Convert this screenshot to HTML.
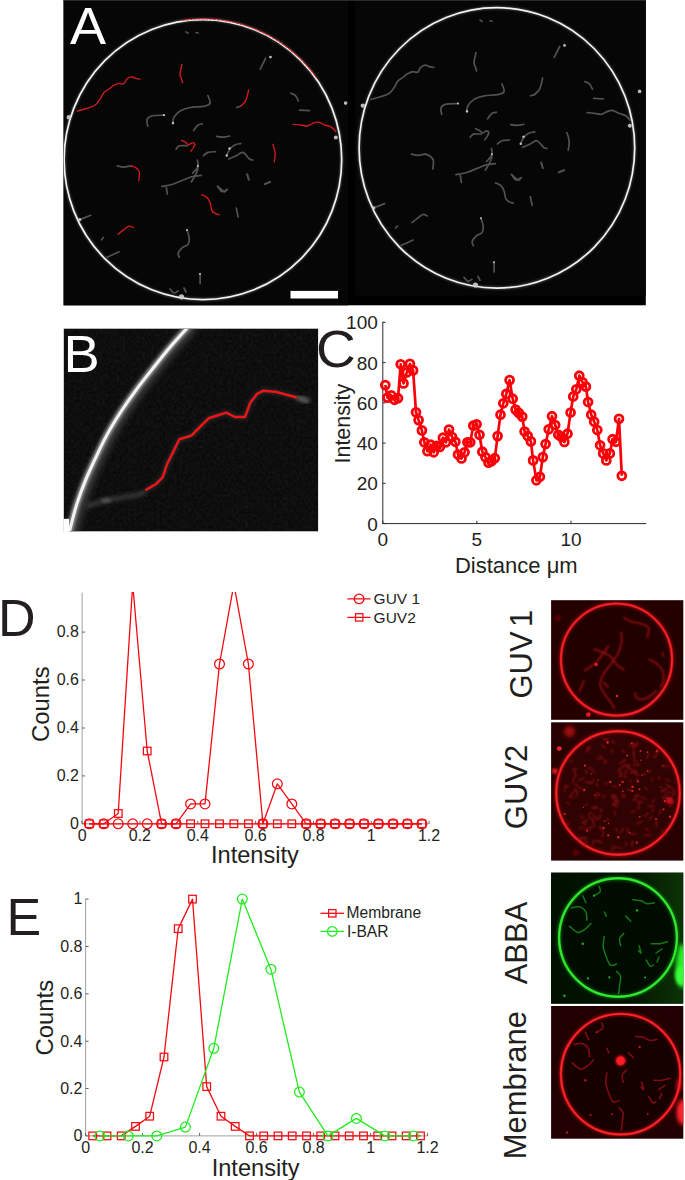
<!DOCTYPE html>
<html><head><meta charset="utf-8"><title>Figure</title>
<style>
html,body{margin:0;padding:0;background:#fff;}
body{width:685px;height:1180px;overflow:hidden;font-family:"Liberation Sans",sans-serif;}
svg{display:block;}
text{font-family:"Liberation Sans",sans-serif;}
</style></head><body>
<svg width="685" height="1180" viewBox="0 0 685 1180">
<defs>
<filter id="b05" x="-20%" y="-20%" width="140%" height="140%"><feGaussianBlur stdDeviation="0.5"/></filter>
<filter id="b07" x="-30%" y="-30%" width="160%" height="160%"><feGaussianBlur stdDeviation="0.75"/></filter>
<filter id="b1" x="-30%" y="-30%" width="160%" height="160%"><feGaussianBlur stdDeviation="1"/></filter>
<filter id="b15" x="-40%" y="-40%" width="180%" height="180%"><feGaussianBlur stdDeviation="1.4"/></filter>
<filter id="b2" x="-50%" y="-50%" width="200%" height="200%"><feGaussianBlur stdDeviation="2"/></filter>
<filter id="b3" x="-50%" y="-50%" width="200%" height="200%"><feGaussianBlur stdDeviation="3"/></filter>
<filter id="b5" x="-50%" y="-50%" width="200%" height="200%"><feGaussianBlur stdDeviation="5"/></filter>
</defs>
<rect x="63.6" y="0" width="582.2" height="305.3" fill="#000"/>
<rect x="63.6" y="0" width="284.4" height="305.3" fill="#060606"/>
<rect x="355.2" y="0" width="290.6" height="295.7" fill="#060606"/>
<rect x="63.6" y="0" width="582.2" height="1" fill="#2a2a2a"/>
<clipPath id="cA1"><rect x="63.6" y="0" width="284.4" height="305.3"/></clipPath>
<clipPath id="cA2"><rect x="355.2" y="0" width="290.6" height="295.7"/></clipPath>
<g clip-path="url(#cA1)">
<g>
<ellipse cx="202.9" cy="159.6" rx="138.8" ry="140.0" fill="none" stroke="#777" stroke-width="3" filter="url(#b1)" opacity="0.55"/>
<ellipse cx="202.9" cy="159.6" rx="138.8" ry="140.0" fill="none" stroke="#f2f2f2" stroke-width="1.7"/>
<g fill="none" stroke="#808080" stroke-width="1.7" stroke-linecap="round" stroke-linejoin="round" filter="url(#b07)" opacity="0.62">
<path d="M147.7 126.1 C147.6 125.0 146.3 121.3 147.0 119.6 C147.7 117.9 149.2 116.5 152.0 115.8 C154.8 115.1 162.1 115.3 164.1 115.2"/>
<path d="M172.8 123.9 C173.0 122.8 172.6 119.6 173.9 117.4 C175.2 115.2 177.8 112.5 180.5 110.8 C183.2 109.1 186.6 108.2 190.4 107.5 C194.2 106.8 200.2 107.1 203.5 106.4 C206.8 105.7 209.4 104.9 210.1 103.1 C210.8 101.3 208.3 96.8 207.9 95.5"/>
<path d="M193.6 130.5 C194.3 129.6 196.5 126.1 198.0 125.0 C199.5 123.9 201.7 124.1 202.4 123.9"/>
<path d="M216.6 136.4 C217.7 136.5 221.0 137.2 223.2 137.1 C225.4 137.0 228.7 136.2 229.8 136.0"/>
<path d="M176.1 149.1 C176.7 148.6 177.6 146.4 179.4 145.8 C181.2 145.2 185.8 145.8 187.1 145.8"/>
<path d="M203.5 155.7 C204.2 155.1 205.9 153.1 207.9 152.4 C209.9 151.7 214.2 151.8 215.5 151.7"/>
<path d="M226.5 155.7 C227.1 154.6 228.4 150.9 229.8 149.1 C231.2 147.3 233.4 145.6 235.2 144.7 C237.0 143.8 239.8 143.8 240.7 143.6"/>
<path d="M228.7 159.0 C230.0 158.4 233.9 156.8 236.3 155.7 C238.7 154.6 240.7 151.8 242.9 152.4 C245.1 153.0 247.8 157.7 249.5 159.0 C251.2 160.3 252.2 159.9 252.8 160.1"/>
<path d="M161.9 186.3 C163.7 186.0 169.2 185.3 172.8 184.2 C176.5 183.1 180.5 181.1 183.8 179.8 C187.1 178.5 189.7 177.2 192.6 176.5 C195.5 175.8 199.9 175.6 201.3 175.4"/>
<path d="M167.4 194.0 L166.3 187.4"/>
<path d="M192.6 173.2 C193.5 172.1 197.2 168.8 198.0 166.6 C198.8 164.4 197.5 161.2 197.4 160.1"/>
<path d="M217.7 186.3 C218.8 187.2 222.8 191.2 224.3 191.8 C225.8 192.4 226.1 190.0 226.5 189.6"/>
<path d="M247.3 174.3 L248.4 178.7"/>
<path d="M264.8 184.2 L270.3 182.0"/>
<path d="M236.3 208.2 L238.1 217.0"/>
<path d="M240.5 106.3 L236.5 107.5"/>
<path d="M265.7 58.2 L260.2 69.1"/>
<path d="M290.9 93.2 C291.6 93.6 293.9 94.1 295.2 95.4 C296.5 96.7 297.9 100.0 298.5 100.9"/>
<path d="M299.6 110.1 L309.5 110.7"/>
<path d="M117.4 165.8 C118.4 166.0 121.2 167.1 123.5 167.1 C125.8 167.1 129.9 166.0 131.2 165.8"/>
<path d="M197.9 165.3 C197.7 166.4 198.0 169.2 196.9 171.9 C195.8 174.7 192.3 180.2 191.4 181.8"/>
<path d="M187.0 229.9 C187.4 231.2 189.0 235.2 189.2 237.6 C189.4 240.0 189.2 242.6 188.1 244.2 C187.0 245.8 184.2 245.9 182.6 247.4 C180.9 248.9 178.8 251.2 178.2 252.9 C177.6 254.6 179.1 256.6 179.3 257.3"/>
<path d="M200.1 273.7 L200.1 283.6"/>
<path d="M107.1 257.3 L119.1 251.8"/>
<path d="M79.7 219.6 L90.7 215.3"/>
<path d="M217.5 186.1 C218.2 187.0 220.2 191.0 221.9 191.6 C223.6 192.2 226.5 189.8 227.4 189.4"/>
<path d="M247.0 174.0 L249.0 180.0"/>
<path d="M264.6 184.0 L270.0 181.8"/>
<path d="M101.6 239.8 L103.3 237.6"/>
<path d="M186.0 32.0 L188.0 33.0"/>
<path d="M196.0 32.5 L198.0 33.0"/>
<path d="M170.0 289.0 C170.7 289.7 172.7 292.7 174.0 293.0 C175.3 293.3 177.3 291.3 178.0 291.0"/>
<path d="M184.0 288.0 L186.0 292.0"/>
</g>
<g fill="#cfcfcf" filter="url(#b07)" opacity="0.9">
<circle cx="270.5" cy="57.1" r="1.4"/>
<circle cx="68.8" cy="117.3" r="2.2"/>
<circle cx="345.6" cy="103.1" r="1.8"/>
<circle cx="335.8" cy="137.5" r="2.0"/>
<circle cx="181.5" cy="296.8" r="2.6"/>
<circle cx="79.7" cy="219.6" r="1.6"/>
<circle cx="173.0" cy="123.0" r="1.2"/>
<circle cx="164.0" cy="115.2" r="1.1"/>
<circle cx="229.5" cy="148.5" r="1.2"/>
<circle cx="226.8" cy="155.5" r="1.2"/>
<circle cx="197.8" cy="166.0" r="1.0"/>
<circle cx="187.0" cy="230.0" r="1.0"/>
<circle cx="200.0" cy="274.0" r="1.0"/>
</g>
<path d="M181.8 20.5 A139.6 140.8 0 0 1 316.7 78.1" fill="none" stroke="#e02424" stroke-width="1.15" stroke-dasharray="3.2 0.7" opacity="0.92"/>
<g fill="none" stroke="#d21c1c" stroke-width="1.35" stroke-linecap="round" stroke-linejoin="round">
<path d="M77.1 111.2 C78.6 110.8 83.3 109.5 86.3 108.5 C89.3 107.5 92.6 106.8 95.0 105.2 C97.4 103.6 99.0 100.8 100.5 98.7 C102.0 96.6 102.3 94.5 103.8 92.8 C105.3 91.1 107.7 90.0 109.3 88.8 C110.9 87.6 112.0 86.4 113.6 85.5 C115.2 84.6 117.4 83.7 119.1 83.4 C120.8 83.2 122.2 84.7 123.5 84.0 C124.8 83.3 125.5 80.2 126.8 79.0 C128.1 77.8 129.8 76.9 131.2 76.8 C132.6 76.7 134.1 77.9 135.5 78.3 C136.9 78.7 139.2 79.0 139.9 79.2"/>
<path d="M182.0 64.3 C181.8 65.1 181.2 67.4 180.9 69.1 C180.6 70.8 179.9 72.9 180.0 74.6 C180.1 76.2 181.1 77.7 181.5 79.0 C181.9 80.3 182.4 82.1 182.6 82.7"/>
<path d="M181.6 140.4 C182.3 140.8 184.8 141.9 186.0 142.6 C187.2 143.3 187.5 144.7 188.6 144.7 C189.7 144.7 191.6 142.6 192.6 142.6 C193.6 142.6 194.6 143.8 194.7 144.7 C194.8 145.6 193.8 146.9 193.2 148.0 C192.5 149.1 191.2 150.8 190.8 151.3"/>
<path d="M248.6 89.9 C248.3 91.0 247.7 94.5 247.1 96.5 C246.5 98.5 246.0 100.4 244.9 102.0 C243.8 103.6 241.2 105.6 240.5 106.3"/>
<path d="M293.1 124.3 C294.4 124.4 298.3 124.7 300.7 125.0 C303.1 125.3 305.5 126.2 307.3 126.0 C309.1 125.8 309.9 124.6 311.7 123.9 C313.5 123.2 316.0 121.9 318.2 122.1 C320.4 122.3 322.6 124.2 324.8 125.0 C327.0 125.8 329.6 126.0 331.4 127.1 C333.2 128.2 335.1 130.8 335.8 131.5"/>
<path d="M272.9 144.3 C273.2 145.3 274.3 148.3 274.7 150.2 C275.1 152.1 275.2 153.8 275.1 155.7 C275.0 157.6 274.4 160.8 274.2 161.8"/>
<path d="M131.2 165.8 C131.9 166.1 134.2 166.5 135.5 167.5 C136.8 168.5 138.8 169.7 139.3 171.9 C139.9 174.1 138.9 179.2 138.8 180.7"/>
<path d="M118.0 234.3 C118.9 233.6 121.7 231.2 123.5 229.9 C125.3 228.6 127.4 226.6 129.0 226.2 C130.6 225.8 132.6 227.4 133.3 227.7"/>
<path d="M201.7 194.7 C202.5 195.1 205.4 196.0 206.8 197.3 C208.2 198.7 209.3 200.6 210.1 202.8 C210.9 205.0 210.9 208.6 211.8 210.4 C212.7 212.2 214.2 213.0 215.5 213.7 C216.8 214.4 218.7 214.6 219.3 214.8"/>
</g>
</g>
</g>
<g clip-path="url(#cA2)">
<g>
<ellipse cx="496.9" cy="147.9" rx="137.8" ry="140.2" fill="none" stroke="#777" stroke-width="3" filter="url(#b1)" opacity="0.55"/>
<ellipse cx="496.9" cy="147.9" rx="137.8" ry="140.2" fill="none" stroke="#f2f2f2" stroke-width="1.7"/>
<g fill="none" stroke="#808080" stroke-width="1.7" stroke-linecap="round" stroke-linejoin="round" filter="url(#b07)" opacity="0.62">
<path d="M441.7 114.4 C441.6 113.3 440.3 109.6 441.0 107.9 C441.7 106.2 443.1 104.8 446.0 104.1 C448.9 103.4 456.1 103.6 458.1 103.5"/>
<path d="M466.8 112.2 C467.0 111.1 466.6 107.9 467.9 105.7 C469.2 103.5 471.8 100.8 474.5 99.1 C477.2 97.5 480.6 96.5 484.4 95.8 C488.2 95.1 494.2 95.4 497.5 94.7 C500.8 94.0 503.4 93.2 504.1 91.4 C504.8 89.6 502.3 85.1 501.9 83.8"/>
<path d="M487.6 118.8 C488.3 117.9 490.5 114.4 492.0 113.3 C493.5 112.2 495.7 112.4 496.4 112.2"/>
<path d="M510.6 124.7 C511.7 124.8 515.0 125.5 517.2 125.4 C519.4 125.3 522.7 124.5 523.8 124.3"/>
<path d="M470.1 137.4 C470.7 136.9 471.6 134.7 473.4 134.1 C475.2 133.6 479.8 134.1 481.1 134.1"/>
<path d="M497.5 144.0 C498.2 143.4 499.9 141.4 501.9 140.7 C503.9 140.0 508.2 140.1 509.5 140.0"/>
<path d="M520.5 144.0 C521.0 142.9 522.3 139.2 523.8 137.4 C525.2 135.6 527.4 133.9 529.2 133.0 C531.0 132.1 533.8 132.1 534.7 131.9"/>
<path d="M522.7 147.3 C524.0 146.8 527.9 145.1 530.3 144.0 C532.7 142.9 534.7 140.2 536.9 140.7 C539.1 141.3 541.9 146.0 543.5 147.3 C545.1 148.6 546.2 148.2 546.8 148.4"/>
<path d="M455.9 174.6 C457.7 174.3 463.1 173.6 466.8 172.5 C470.5 171.4 474.5 169.4 477.8 168.1 C481.1 166.8 483.7 165.5 486.6 164.8 C489.5 164.1 493.9 163.9 495.3 163.7"/>
<path d="M461.4 182.3 L460.3 175.7"/>
<path d="M486.6 161.5 C487.5 160.4 491.2 157.1 492.0 154.9 C492.8 152.7 491.5 149.5 491.4 148.4"/>
<path d="M511.7 174.6 C512.8 175.5 516.8 179.6 518.3 180.1 C519.8 180.7 520.1 178.3 520.5 177.9"/>
<path d="M541.3 162.6 L542.4 167.0"/>
<path d="M558.8 172.5 L564.3 170.3"/>
<path d="M530.3 196.5 L532.1 205.3"/>
<path d="M534.5 94.6 L530.5 95.8"/>
<path d="M559.7 46.5 L554.2 57.4"/>
<path d="M584.9 81.5 C585.6 81.9 587.9 82.4 589.2 83.7 C590.5 85.0 592.0 88.3 592.5 89.2"/>
<path d="M593.6 98.4 L603.5 99.0"/>
<path d="M411.4 154.1 C412.4 154.3 415.2 155.4 417.5 155.4 C419.8 155.4 423.9 154.3 425.2 154.1"/>
<path d="M491.9 153.6 C491.7 154.7 492.0 157.5 490.9 160.2 C489.8 163.0 486.3 168.5 485.4 170.1"/>
<path d="M481.0 218.2 C481.4 219.5 483.0 223.5 483.2 225.9 C483.4 228.3 483.2 230.9 482.1 232.5 C481.0 234.1 478.2 234.2 476.6 235.7 C475.0 237.2 472.8 239.6 472.2 241.2 C471.6 242.9 473.1 244.9 473.3 245.6"/>
<path d="M494.1 262.0 L494.1 271.9"/>
<path d="M401.1 245.6 L413.1 240.1"/>
<path d="M373.7 207.9 L384.7 203.6"/>
<path d="M511.5 174.4 C512.2 175.3 514.2 179.3 515.9 179.9 C517.5 180.5 520.5 178.1 521.4 177.7"/>
<path d="M541.0 162.3 L543.0 168.3"/>
<path d="M558.6 172.3 L564.0 170.1"/>
<path d="M395.6 228.1 L397.3 225.9"/>
<path d="M480.0 20.3 L482.0 21.3"/>
<path d="M490.0 20.8 L492.0 21.3"/>
<path d="M464.0 277.3 C464.7 278.0 466.7 281.0 468.0 281.3 C469.3 281.6 471.3 279.6 472.0 279.3"/>
<path d="M478.0 276.3 L480.0 280.3"/>
<path d="M371.1 99.5 C372.6 99.1 377.3 97.8 380.3 96.8 C383.3 95.8 386.6 95.1 389.0 93.5 C391.4 91.9 393.0 89.1 394.5 87.0 C396.0 84.9 396.3 82.8 397.8 81.1 C399.3 79.5 401.7 78.3 403.3 77.1 C404.9 75.9 406.0 74.7 407.6 73.8 C409.2 72.9 411.5 72.0 413.1 71.7 C414.8 71.5 416.2 73.0 417.5 72.3 C418.8 71.6 419.5 68.5 420.8 67.3 C422.1 66.1 423.8 65.2 425.2 65.1 C426.6 65.0 428.1 66.2 429.5 66.6 C430.9 67.0 433.2 67.4 433.9 67.5"/>
<path d="M476.0 52.6 C475.8 53.4 475.2 55.7 474.9 57.4 C474.6 59.1 473.9 61.3 474.0 62.9 C474.1 64.6 475.1 66.0 475.5 67.3 C475.9 68.7 476.4 70.4 476.6 71.0"/>
<path d="M475.6 128.7 C476.3 129.1 478.8 130.2 480.0 130.9 C481.2 131.6 481.5 133.0 482.6 133.0 C483.7 133.0 485.6 130.9 486.6 130.9 C487.6 130.9 488.6 132.1 488.7 133.0 C488.8 133.9 487.8 135.2 487.2 136.3 C486.6 137.4 485.2 139.1 484.8 139.6"/>
<path d="M542.6 78.2 C542.4 79.3 541.7 82.8 541.1 84.8 C540.5 86.8 540.0 88.7 538.9 90.3 C537.8 91.9 535.2 93.9 534.5 94.6"/>
<path d="M587.1 112.6 C588.4 112.7 592.3 113.0 594.7 113.3 C597.1 113.6 599.5 114.5 601.3 114.3 C603.1 114.1 603.9 112.9 605.7 112.2 C607.5 111.6 610.0 110.2 612.2 110.4 C614.4 110.6 616.6 112.5 618.8 113.3 C621.0 114.1 623.6 114.3 625.4 115.4 C627.2 116.5 629.1 119.1 629.8 119.8"/>
<path d="M566.9 132.6 C567.2 133.6 568.3 136.6 568.7 138.5 C569.1 140.4 569.2 142.1 569.1 144.0 C569.0 145.9 568.4 149.1 568.2 150.1"/>
<path d="M425.2 154.1 C425.9 154.4 428.1 154.8 429.5 155.8 C430.9 156.8 432.8 158.0 433.3 160.2 C433.9 162.4 432.9 167.5 432.8 169.0"/>
<path d="M412.0 222.6 C412.9 221.9 415.7 219.6 417.5 218.2 C419.3 216.9 421.4 214.9 423.0 214.5 C424.6 214.1 426.6 215.8 427.3 216.0"/>
<path d="M495.7 183.0 C496.6 183.4 499.4 184.3 500.8 185.6 C502.2 187.0 503.3 188.9 504.1 191.1 C504.9 193.3 504.9 196.9 505.8 198.7 C506.7 200.5 508.2 201.3 509.5 202.0 C510.8 202.7 512.7 202.9 513.3 203.1"/>
</g>
<g fill="#cfcfcf" filter="url(#b07)" opacity="0.9">
<circle cx="564.5" cy="45.4" r="1.4"/>
<circle cx="362.8" cy="105.6" r="2.2"/>
<circle cx="639.6" cy="91.4" r="1.8"/>
<circle cx="629.8" cy="125.8" r="2.0"/>
<circle cx="475.5" cy="285.1" r="2.6"/>
<circle cx="373.7" cy="207.9" r="1.6"/>
<circle cx="467.0" cy="111.3" r="1.2"/>
<circle cx="458.0" cy="103.5" r="1.1"/>
<circle cx="523.5" cy="136.8" r="1.2"/>
<circle cx="520.8" cy="143.8" r="1.2"/>
<circle cx="491.8" cy="154.3" r="1.0"/>
<circle cx="481.0" cy="218.3" r="1.0"/>
<circle cx="494.0" cy="262.3" r="1.0"/>
</g>
</g>
</g>
<rect x="290.5" y="290.9" width="47.5" height="7.6" fill="#fff"/>
<text transform="translate(70.1 43.9) scale(1.06 1)" x="0" y="0" font-size="51" fill="#fff" font-family="Liberation Sans, sans-serif">A</text>
<clipPath id="cB"><rect x="63.8" y="328.7" width="254.3" height="202.6"/></clipPath>
<filter id="noiseB" x="0" y="0" width="100%" height="100%"><feTurbulence type="fractalNoise" baseFrequency="0.35" numOctaves="2" seed="7" result="n"/><feColorMatrix type="matrix" values="0 0 0 0 1  0 0 0 0 1  0 0 0 0 1  0.6 0.6 0 0 -0.42"/></filter>
<rect x="63.8" y="328.7" width="254.3" height="202.6" fill="#0a0a0a"/>
<rect x="63.8" y="328.7" width="254.3" height="202.6" filter="url(#noiseB)" opacity="0.10"/>
<g clip-path="url(#cB)">
<path d="M190.5 324.0 C189.8 324.8 190.0 324.7 186.4 328.8 C182.8 332.9 174.8 341.6 168.9 348.5 C163.1 355.4 156.8 363.5 151.3 370.4 C145.8 377.3 141.1 383.2 136.0 390.1 C130.9 397.0 125.5 404.7 120.7 412.0 C116.0 419.3 111.5 426.6 107.5 433.9 C103.5 441.2 100.2 448.1 96.6 455.8 C93.0 463.5 89.0 471.9 85.7 479.9 C82.4 487.9 79.5 495.9 76.9 503.9 C74.3 511.9 71.7 522.6 70.3 528.0 C68.9 533.4 68.8 534.7 68.5 536.0" fill="none" stroke="#4a4a4a" stroke-width="11" filter="url(#b3)" opacity="0.75" transform="translate(3 1)"/>
<path d="M190.5 324.0 C189.8 324.8 190.0 324.7 186.4 328.8 C182.8 332.9 174.8 341.6 168.9 348.5 C163.1 355.4 156.8 363.5 151.3 370.4 C145.8 377.3 141.1 383.2 136.0 390.1 C130.9 397.0 125.5 404.7 120.7 412.0 C116.0 419.3 111.5 426.6 107.5 433.9 C103.5 441.2 100.2 448.1 96.6 455.8 C93.0 463.5 89.0 471.9 85.7 479.9 C82.4 487.9 79.5 495.9 76.9 503.9 C74.3 511.9 71.7 522.6 70.3 528.0 C68.9 533.4 68.8 534.7 68.5 536.0" fill="none" stroke="#989898" stroke-width="6.2" filter="url(#b15)"/>
<path d="M190.5 324.0 C189.8 324.8 190.0 324.7 186.4 328.8 C182.8 332.9 174.8 341.6 168.9 348.5 C163.1 355.4 156.8 363.5 151.3 370.4 C145.8 377.3 141.1 383.2 136.0 390.1 C130.9 397.0 125.5 404.7 120.7 412.0 C116.0 419.3 111.5 426.6 107.5 433.9 C103.5 441.2 100.2 448.1 96.6 455.8 C93.0 463.5 89.0 471.9 85.7 479.9 C82.4 487.9 79.5 495.9 76.9 503.9 C74.3 511.9 71.7 522.6 70.3 528.0 C68.9 533.4 68.8 534.7 68.5 536.0" fill="none" stroke="#f2f2f2" stroke-width="3.0" filter="url(#b07)"/>
<path d="M86.0 507.0 C87.3 506.5 90.1 505.1 93.6 504.0 C97.0 502.9 101.8 501.4 106.7 500.3 C111.6 499.2 117.4 498.4 122.8 497.4 C128.2 496.4 134.9 495.6 138.8 494.5 C142.7 493.4 144.9 491.4 146.1 490.8" fill="none" stroke="#484848" stroke-width="4.5" filter="url(#b2)" opacity="0.75"/>
<ellipse cx="106" cy="500.5" rx="5" ry="2.2" fill="#6a6a6a" filter="url(#b15)" opacity="0.6"/>
<path d="M296.2 397.2 C297.2 397.5 299.9 398.3 302.0 399.0 C304.1 399.7 307.8 401.1 309.0 401.5" fill="none" stroke="#777" stroke-width="4" filter="url(#b2)"/>
<polyline points="146.4,489.7 156.1,484.0 162.6,477.4 167.0,464.3 173.6,451.1 179.3,439.3 191.1,435.8 199.9,427.0 208.6,418.3 219.6,414.8 226.2,412.6 234.9,417.0 245.0,417.0 250.2,402.9 256.8,394.2 263.4,390.7 276.5,392.0 287.5,395.0 296.2,397.2" fill="none" stroke="#404040" stroke-width="4" filter="url(#b2)" opacity="0.6"/>
<polyline points="146.4,489.7 156.1,484.0 162.6,477.4 167.0,464.3 173.6,451.1 179.3,439.3 191.1,435.8 199.9,427.0 208.6,418.3 219.6,414.8 226.2,412.6 234.9,417.0 245.0,417.0 250.2,402.9 256.8,394.2 263.4,390.7 276.5,392.0 287.5,395.0 296.2,397.2" fill="none" stroke="#ee1418" stroke-width="2.5" stroke-linejoin="round" stroke-linecap="round"/>
</g>
<rect x="63.5" y="518.8" width="5.6" height="14" fill="#fff"/>
<text transform="translate(63.5 372.1) scale(1.045 1)" font-size="52" fill="#fff" font-family="Liberation Sans, sans-serif">B</text>
<g>
<path d="M382.8 321.8 V523.6 H646.2" fill="none" stroke="#2a2a2a" stroke-width="1"/>
<path d="M382.8 523.6 h2.8" stroke="#2a2a2a" stroke-width="1"/>
<text x="377.8" y="530.5" font-size="19" text-anchor="end" fill="#231f20" font-family="Liberation Sans, sans-serif">0</text>
<path d="M382.8 483.3 h2.8" stroke="#2a2a2a" stroke-width="1"/>
<text x="377.8" y="490.2" font-size="19" text-anchor="end" fill="#231f20" font-family="Liberation Sans, sans-serif">20</text>
<path d="M382.8 443.1 h2.8" stroke="#2a2a2a" stroke-width="1"/>
<text x="377.8" y="450.0" font-size="19" text-anchor="end" fill="#231f20" font-family="Liberation Sans, sans-serif">40</text>
<path d="M382.8 402.8 h2.8" stroke="#2a2a2a" stroke-width="1"/>
<text x="377.8" y="409.7" font-size="19" text-anchor="end" fill="#231f20" font-family="Liberation Sans, sans-serif">60</text>
<path d="M382.8 362.6 h2.8" stroke="#2a2a2a" stroke-width="1"/>
<text x="377.8" y="369.5" font-size="19" text-anchor="end" fill="#231f20" font-family="Liberation Sans, sans-serif">80</text>
<path d="M382.8 322.3 h2.8" stroke="#2a2a2a" stroke-width="1"/>
<text x="377.8" y="329.2" font-size="19" text-anchor="end" fill="#231f20" font-family="Liberation Sans, sans-serif">100</text>
<path d="M382.8 523.6 v-2.8" stroke="#2a2a2a" stroke-width="1"/>
<text x="382.8" y="546.0" font-size="19" text-anchor="middle" fill="#231f20" font-family="Liberation Sans, sans-serif">0</text>
<path d="M476.9 523.6 v-2.8" stroke="#2a2a2a" stroke-width="1"/>
<text x="476.9" y="546.0" font-size="19" text-anchor="middle" fill="#231f20" font-family="Liberation Sans, sans-serif">5</text>
<path d="M571.0 523.6 v-2.8" stroke="#2a2a2a" stroke-width="1"/>
<text x="571.0" y="546.0" font-size="19" text-anchor="middle" fill="#231f20" font-family="Liberation Sans, sans-serif">10</text>
<text x="516.3" y="573.2" font-size="22" text-anchor="middle" fill="#231f20" font-family="Liberation Sans, sans-serif">Distance μm</text>
<text transform="translate(350.2 423.6) rotate(-90)" font-size="21.4" text-anchor="middle" fill="#231f20" font-family="Liberation Sans, sans-serif">Intensity</text>
<polyline points="385.3,385.1 387.5,397.6 391.2,395.4 394.5,399.8 398.0,398.2 400.7,364.3 403.5,383.4 406.8,372.4 409.9,363.9 413.1,370.4 416.0,412.3 418.6,420.1 421.9,430.4 424.3,442.3 427.4,451.2 430.7,444.7 433.7,452.3 436.8,445.8 439.8,446.9 442.9,437.7 446.0,442.3 449.0,429.6 452.1,437.0 455.4,441.8 458.0,454.5 461.5,458.5 464.6,452.3 467.4,442.3 470.3,442.3 473.3,425.6 476.6,424.3 479.5,434.8 482.3,451.7 485.4,457.1 488.5,462.6 491.5,461.1 494.8,458.2 497.6,436.1 500.5,414.7 503.3,403.3 506.3,393.9 509.6,380.1 512.7,398.7 515.6,409.6 518.7,412.9 522.2,416.6 524.6,431.5 527.7,435.9 530.9,441.4 533.1,460.4 536.4,480.3 539.9,476.8 542.8,457.1 545.6,444.0 548.7,429.3 552.0,416.2 555.2,425.0 558.3,434.8 561.4,437.0 564.4,442.0 567.5,433.7 570.6,412.5 573.2,396.5 576.3,389.3 579.3,375.7 582.6,382.3 585.9,386.6 588.1,402.0 591.2,414.7 594.2,421.7 597.3,430.0 600.1,445.3 603.2,453.4 606.3,460.4 609.8,453.4 612.6,439.2 615.9,441.8 619.0,418.8 621.8,475.8" fill="none" stroke="#fa0008" stroke-width="2.7" stroke-linejoin="round"/>
<g fill="none" stroke="#fa0008" stroke-width="2.8">
<circle cx="385.3" cy="385.1" r="3.95"/>
<circle cx="387.5" cy="397.6" r="3.95"/>
<circle cx="391.2" cy="395.4" r="3.95"/>
<circle cx="394.5" cy="399.8" r="3.95"/>
<circle cx="398.0" cy="398.2" r="3.95"/>
<circle cx="400.7" cy="364.3" r="3.95"/>
<circle cx="403.5" cy="383.4" r="3.95"/>
<circle cx="406.8" cy="372.4" r="3.95"/>
<circle cx="409.9" cy="363.9" r="3.95"/>
<circle cx="413.1" cy="370.4" r="3.95"/>
<circle cx="416.0" cy="412.3" r="3.95"/>
<circle cx="418.6" cy="420.1" r="3.95"/>
<circle cx="421.9" cy="430.4" r="3.95"/>
<circle cx="424.3" cy="442.3" r="3.95"/>
<circle cx="427.4" cy="451.2" r="3.95"/>
<circle cx="430.7" cy="444.7" r="3.95"/>
<circle cx="433.7" cy="452.3" r="3.95"/>
<circle cx="436.8" cy="445.8" r="3.95"/>
<circle cx="439.8" cy="446.9" r="3.95"/>
<circle cx="442.9" cy="437.7" r="3.95"/>
<circle cx="446.0" cy="442.3" r="3.95"/>
<circle cx="449.0" cy="429.6" r="3.95"/>
<circle cx="452.1" cy="437.0" r="3.95"/>
<circle cx="455.4" cy="441.8" r="3.95"/>
<circle cx="458.0" cy="454.5" r="3.95"/>
<circle cx="461.5" cy="458.5" r="3.95"/>
<circle cx="464.6" cy="452.3" r="3.95"/>
<circle cx="467.4" cy="442.3" r="3.95"/>
<circle cx="470.3" cy="442.3" r="3.95"/>
<circle cx="473.3" cy="425.6" r="3.95"/>
<circle cx="476.6" cy="424.3" r="3.95"/>
<circle cx="479.5" cy="434.8" r="3.95"/>
<circle cx="482.3" cy="451.7" r="3.95"/>
<circle cx="485.4" cy="457.1" r="3.95"/>
<circle cx="488.5" cy="462.6" r="3.95"/>
<circle cx="491.5" cy="461.1" r="3.95"/>
<circle cx="494.8" cy="458.2" r="3.95"/>
<circle cx="497.6" cy="436.1" r="3.95"/>
<circle cx="500.5" cy="414.7" r="3.95"/>
<circle cx="503.3" cy="403.3" r="3.95"/>
<circle cx="506.3" cy="393.9" r="3.95"/>
<circle cx="509.6" cy="380.1" r="3.95"/>
<circle cx="512.7" cy="398.7" r="3.95"/>
<circle cx="515.6" cy="409.6" r="3.95"/>
<circle cx="518.7" cy="412.9" r="3.95"/>
<circle cx="522.2" cy="416.6" r="3.95"/>
<circle cx="524.6" cy="431.5" r="3.95"/>
<circle cx="527.7" cy="435.9" r="3.95"/>
<circle cx="530.9" cy="441.4" r="3.95"/>
<circle cx="533.1" cy="460.4" r="3.95"/>
<circle cx="536.4" cy="480.3" r="3.95"/>
<circle cx="539.9" cy="476.8" r="3.95"/>
<circle cx="542.8" cy="457.1" r="3.95"/>
<circle cx="545.6" cy="444.0" r="3.95"/>
<circle cx="548.7" cy="429.3" r="3.95"/>
<circle cx="552.0" cy="416.2" r="3.95"/>
<circle cx="555.2" cy="425.0" r="3.95"/>
<circle cx="558.3" cy="434.8" r="3.95"/>
<circle cx="561.4" cy="437.0" r="3.95"/>
<circle cx="564.4" cy="442.0" r="3.95"/>
<circle cx="567.5" cy="433.7" r="3.95"/>
<circle cx="570.6" cy="412.5" r="3.95"/>
<circle cx="573.2" cy="396.5" r="3.95"/>
<circle cx="576.3" cy="389.3" r="3.95"/>
<circle cx="579.3" cy="375.7" r="3.95"/>
<circle cx="582.6" cy="382.3" r="3.95"/>
<circle cx="585.9" cy="386.6" r="3.95"/>
<circle cx="588.1" cy="402.0" r="3.95"/>
<circle cx="591.2" cy="414.7" r="3.95"/>
<circle cx="594.2" cy="421.7" r="3.95"/>
<circle cx="597.3" cy="430.0" r="3.95"/>
<circle cx="600.1" cy="445.3" r="3.95"/>
<circle cx="603.2" cy="453.4" r="3.95"/>
<circle cx="606.3" cy="460.4" r="3.95"/>
<circle cx="609.8" cy="453.4" r="3.95"/>
<circle cx="612.6" cy="439.2" r="3.95"/>
<circle cx="615.9" cy="441.8" r="3.95"/>
<circle cx="619.0" cy="418.8" r="3.95"/>
<circle cx="621.8" cy="475.8" r="3.95"/>
</g></g>
<text transform="translate(315.9 366.8) scale(1.06 1)" font-size="52" fill="#231f20" font-family="Liberation Sans, sans-serif">C</text>
<clipPath id="cD"><rect x="76.1" y="592.1" width="361.0" height="238.2"/></clipPath>
<path d="M82.1 592.6 V823.8 H429.1" fill="none" stroke="#a0a0a0" stroke-width="1"/>
<path d="M82.1 823.8 h3" stroke="#555" stroke-width="0.9"/>
<text x="78.9" y="829.1" font-size="16.0" text-anchor="end" fill="#231f20" font-family="Liberation Sans, sans-serif">0</text>
<path d="M82.1 775.9 h3" stroke="#555" stroke-width="0.9"/>
<text x="78.9" y="781.2" font-size="16.0" text-anchor="end" fill="#231f20" font-family="Liberation Sans, sans-serif">0.2</text>
<path d="M82.1 728.0 h3" stroke="#555" stroke-width="0.9"/>
<text x="78.9" y="733.3" font-size="16.0" text-anchor="end" fill="#231f20" font-family="Liberation Sans, sans-serif">0.4</text>
<path d="M82.1 680.0 h3" stroke="#555" stroke-width="0.9"/>
<text x="78.9" y="685.3" font-size="16.0" text-anchor="end" fill="#231f20" font-family="Liberation Sans, sans-serif">0.6</text>
<path d="M82.1 632.1 h3" stroke="#555" stroke-width="0.9"/>
<text x="78.9" y="637.4" font-size="16.0" text-anchor="end" fill="#231f20" font-family="Liberation Sans, sans-serif">0.8</text>
<path d="M82.1 823.8 v-3" stroke="#555" stroke-width="0.9"/>
<text x="82.1" y="840.8" font-size="16.0" text-anchor="middle" fill="#231f20" font-family="Liberation Sans, sans-serif">0</text>
<path d="M139.9 823.8 v-3" stroke="#555" stroke-width="0.9"/>
<text x="139.9" y="840.8" font-size="16.0" text-anchor="middle" fill="#231f20" font-family="Liberation Sans, sans-serif">0.2</text>
<path d="M197.8 823.8 v-3" stroke="#555" stroke-width="0.9"/>
<text x="197.8" y="840.8" font-size="16.0" text-anchor="middle" fill="#231f20" font-family="Liberation Sans, sans-serif">0.4</text>
<path d="M255.6 823.8 v-3" stroke="#555" stroke-width="0.9"/>
<text x="255.6" y="840.8" font-size="16.0" text-anchor="middle" fill="#231f20" font-family="Liberation Sans, sans-serif">0.6</text>
<path d="M313.5 823.8 v-3" stroke="#555" stroke-width="0.9"/>
<text x="313.5" y="840.8" font-size="16.0" text-anchor="middle" fill="#231f20" font-family="Liberation Sans, sans-serif">0.8</text>
<path d="M371.3 823.8 v-3" stroke="#555" stroke-width="0.9"/>
<text x="371.3" y="840.8" font-size="16.0" text-anchor="middle" fill="#231f20" font-family="Liberation Sans, sans-serif">1</text>
<path d="M429.1 823.8 v-3" stroke="#555" stroke-width="0.9"/>
<text x="429.1" y="840.8" font-size="16.0" text-anchor="middle" fill="#231f20" font-family="Liberation Sans, sans-serif">1.2</text>
<text x="254.9" y="863.4" font-size="23.6" text-anchor="middle" fill="#231f20" font-family="Liberation Sans, sans-serif">Intensity</text>
<text transform="translate(48.8 704.2) rotate(-90)" font-size="23.9" text-anchor="middle" fill="#231f20" font-family="Liberation Sans, sans-serif">Counts</text>
<g clip-path="url(#cD)">
<polyline points="89.3,823.8 103.8,823.8 118.2,823.8 132.7,823.8 147.2,823.8 161.6,823.8 176.1,823.8 190.6,803.9 205.0,803.9 219.5,664.0 233.9,584.2 248.4,664.0 262.9,823.8 277.3,783.8 291.8,803.9 306.2,823.8 320.7,823.8 335.1,823.8 349.6,823.8 364.1,823.8 378.5,823.8 393.0,823.8 407.4,823.8 421.9,823.8" fill="none" stroke="#f20a10" stroke-width="1.3" stroke-linejoin="round"/>
<circle cx="89.3" cy="823.8" r="4.9" fill="none" stroke="#f20a10" stroke-width="1.25"/>
<circle cx="103.8" cy="823.8" r="4.9" fill="none" stroke="#f20a10" stroke-width="1.25"/>
<circle cx="118.2" cy="823.8" r="4.9" fill="none" stroke="#f20a10" stroke-width="1.25"/>
<circle cx="132.7" cy="823.8" r="4.9" fill="none" stroke="#f20a10" stroke-width="1.25"/>
<circle cx="147.2" cy="823.8" r="4.9" fill="none" stroke="#f20a10" stroke-width="1.25"/>
<circle cx="161.6" cy="823.8" r="4.9" fill="none" stroke="#f20a10" stroke-width="1.25"/>
<circle cx="176.1" cy="823.8" r="4.9" fill="none" stroke="#f20a10" stroke-width="1.25"/>
<circle cx="190.6" cy="803.9" r="4.9" fill="none" stroke="#f20a10" stroke-width="1.25"/>
<circle cx="205.0" cy="803.9" r="4.9" fill="none" stroke="#f20a10" stroke-width="1.25"/>
<circle cx="219.5" cy="664.0" r="4.9" fill="none" stroke="#f20a10" stroke-width="1.25"/>
<circle cx="233.9" cy="584.2" r="4.9" fill="none" stroke="#f20a10" stroke-width="1.25"/>
<circle cx="248.4" cy="664.0" r="4.9" fill="none" stroke="#f20a10" stroke-width="1.25"/>
<circle cx="262.9" cy="823.8" r="4.9" fill="none" stroke="#f20a10" stroke-width="1.25"/>
<circle cx="277.3" cy="783.8" r="4.9" fill="none" stroke="#f20a10" stroke-width="1.25"/>
<circle cx="291.8" cy="803.9" r="4.9" fill="none" stroke="#f20a10" stroke-width="1.25"/>
<circle cx="306.2" cy="823.8" r="4.9" fill="none" stroke="#f20a10" stroke-width="1.25"/>
<circle cx="320.7" cy="823.8" r="4.9" fill="none" stroke="#f20a10" stroke-width="1.25"/>
<circle cx="335.1" cy="823.8" r="4.9" fill="none" stroke="#f20a10" stroke-width="1.25"/>
<circle cx="349.6" cy="823.8" r="4.9" fill="none" stroke="#f20a10" stroke-width="1.25"/>
<circle cx="364.1" cy="823.8" r="4.9" fill="none" stroke="#f20a10" stroke-width="1.25"/>
<circle cx="378.5" cy="823.8" r="4.9" fill="none" stroke="#f20a10" stroke-width="1.25"/>
<circle cx="393.0" cy="823.8" r="4.9" fill="none" stroke="#f20a10" stroke-width="1.25"/>
<circle cx="407.4" cy="823.8" r="4.9" fill="none" stroke="#f20a10" stroke-width="1.25"/>
<circle cx="421.9" cy="823.8" r="4.9" fill="none" stroke="#f20a10" stroke-width="1.25"/>
<polyline points="89.3,823.8 103.8,823.8 118.2,813.5 132.7,584.2 147.2,751.0 161.6,823.8 176.1,823.8 190.6,823.8 205.0,823.8 219.5,823.8 233.9,823.8 248.4,823.8 262.9,823.8 277.3,823.8 291.8,823.8 306.2,823.8 320.7,823.8 335.1,823.8 349.6,823.8 364.1,823.8 378.5,823.8 393.0,823.8 407.4,823.8 421.9,823.8" fill="none" stroke="#f20a10" stroke-width="1.3" stroke-linejoin="round"/>
<rect x="85.5" y="820.0" width="7.6" height="7.6" fill="none" stroke="#f20a10" stroke-width="1.25"/>
<rect x="100.0" y="820.0" width="7.6" height="7.6" fill="none" stroke="#f20a10" stroke-width="1.25"/>
<rect x="114.5" y="809.7" width="7.6" height="7.6" fill="none" stroke="#f20a10" stroke-width="1.25"/>
<rect x="128.9" y="580.4" width="7.6" height="7.6" fill="none" stroke="#f20a10" stroke-width="1.25"/>
<rect x="143.4" y="747.2" width="7.6" height="7.6" fill="none" stroke="#f20a10" stroke-width="1.25"/>
<rect x="157.8" y="820.0" width="7.6" height="7.6" fill="none" stroke="#f20a10" stroke-width="1.25"/>
<rect x="172.3" y="820.0" width="7.6" height="7.6" fill="none" stroke="#f20a10" stroke-width="1.25"/>
<rect x="186.8" y="820.0" width="7.6" height="7.6" fill="none" stroke="#f20a10" stroke-width="1.25"/>
<rect x="201.2" y="820.0" width="7.6" height="7.6" fill="none" stroke="#f20a10" stroke-width="1.25"/>
<rect x="215.7" y="820.0" width="7.6" height="7.6" fill="none" stroke="#f20a10" stroke-width="1.25"/>
<rect x="230.1" y="820.0" width="7.6" height="7.6" fill="none" stroke="#f20a10" stroke-width="1.25"/>
<rect x="244.6" y="820.0" width="7.6" height="7.6" fill="none" stroke="#f20a10" stroke-width="1.25"/>
<rect x="259.1" y="820.0" width="7.6" height="7.6" fill="none" stroke="#f20a10" stroke-width="1.25"/>
<rect x="273.5" y="820.0" width="7.6" height="7.6" fill="none" stroke="#f20a10" stroke-width="1.25"/>
<rect x="288.0" y="820.0" width="7.6" height="7.6" fill="none" stroke="#f20a10" stroke-width="1.25"/>
<rect x="302.4" y="820.0" width="7.6" height="7.6" fill="none" stroke="#f20a10" stroke-width="1.25"/>
<rect x="316.9" y="820.0" width="7.6" height="7.6" fill="none" stroke="#f20a10" stroke-width="1.25"/>
<rect x="331.3" y="820.0" width="7.6" height="7.6" fill="none" stroke="#f20a10" stroke-width="1.25"/>
<rect x="345.8" y="820.0" width="7.6" height="7.6" fill="none" stroke="#f20a10" stroke-width="1.25"/>
<rect x="360.3" y="820.0" width="7.6" height="7.6" fill="none" stroke="#f20a10" stroke-width="1.25"/>
<rect x="374.7" y="820.0" width="7.6" height="7.6" fill="none" stroke="#f20a10" stroke-width="1.25"/>
<rect x="389.2" y="820.0" width="7.6" height="7.6" fill="none" stroke="#f20a10" stroke-width="1.25"/>
<rect x="403.6" y="820.0" width="7.6" height="7.6" fill="none" stroke="#f20a10" stroke-width="1.25"/>
<rect x="418.1" y="820.0" width="7.6" height="7.6" fill="none" stroke="#f20a10" stroke-width="1.25"/>
</g>
<path d="M347.3 598.9 H370.5 M347.3 617.4 H370.5" stroke="#f20a10" stroke-width="1.3"/>
<circle cx="359.1" cy="598.9" r="4.8" fill="none" stroke="#f20a10" stroke-width="1.25"/>
<rect x="355.5" y="613.7" width="7.4" height="7.4" fill="none" stroke="#f20a10" stroke-width="1.25"/>
<text x="373.6" y="603.9" font-size="15.5" fill="#231f20" font-family="Liberation Sans, sans-serif">GUV 1</text>
<text x="373.6" y="622.6" font-size="15.5" fill="#231f20" font-family="Liberation Sans, sans-serif">GUV2</text>
<text x="-1.9" y="635.9" font-size="52" fill="#231f20" font-family="Liberation Sans, sans-serif">D</text>
<clipPath id="cE"><rect x="79.6" y="890.8" width="356.0" height="251.6"/></clipPath>
<path d="M85.6 898.8 V1135.9 H427.6" fill="none" stroke="#a0a0a0" stroke-width="1"/>
<path d="M85.6 1135.9 h3" stroke="#555" stroke-width="0.9"/>
<text x="82.4" y="1141.2" font-size="16.0" text-anchor="end" fill="#231f20" font-family="Liberation Sans, sans-serif">0</text>
<path d="M85.6 1088.5 h3" stroke="#555" stroke-width="0.9"/>
<text x="82.4" y="1093.8" font-size="16.0" text-anchor="end" fill="#231f20" font-family="Liberation Sans, sans-serif">0.2</text>
<path d="M85.6 1041.2 h3" stroke="#555" stroke-width="0.9"/>
<text x="82.4" y="1046.5" font-size="16.0" text-anchor="end" fill="#231f20" font-family="Liberation Sans, sans-serif">0.4</text>
<path d="M85.6 993.8 h3" stroke="#555" stroke-width="0.9"/>
<text x="82.4" y="999.1" font-size="16.0" text-anchor="end" fill="#231f20" font-family="Liberation Sans, sans-serif">0.6</text>
<path d="M85.6 946.5 h3" stroke="#555" stroke-width="0.9"/>
<text x="82.4" y="951.8" font-size="16.0" text-anchor="end" fill="#231f20" font-family="Liberation Sans, sans-serif">0.8</text>
<path d="M85.6 899.1 h3" stroke="#555" stroke-width="0.9"/>
<text x="82.4" y="904.4" font-size="16.0" text-anchor="end" fill="#231f20" font-family="Liberation Sans, sans-serif">1</text>
<path d="M85.6 1135.9 v-3" stroke="#555" stroke-width="0.9"/>
<text x="85.6" y="1153.4" font-size="16.0" text-anchor="middle" fill="#231f20" font-family="Liberation Sans, sans-serif">0</text>
<path d="M142.6 1135.9 v-3" stroke="#555" stroke-width="0.9"/>
<text x="142.6" y="1153.4" font-size="16.0" text-anchor="middle" fill="#231f20" font-family="Liberation Sans, sans-serif">0.2</text>
<path d="M199.6 1135.9 v-3" stroke="#555" stroke-width="0.9"/>
<text x="199.6" y="1153.4" font-size="16.0" text-anchor="middle" fill="#231f20" font-family="Liberation Sans, sans-serif">0.4</text>
<path d="M256.6 1135.9 v-3" stroke="#555" stroke-width="0.9"/>
<text x="256.6" y="1153.4" font-size="16.0" text-anchor="middle" fill="#231f20" font-family="Liberation Sans, sans-serif">0.6</text>
<path d="M313.6 1135.9 v-3" stroke="#555" stroke-width="0.9"/>
<text x="313.6" y="1153.4" font-size="16.0" text-anchor="middle" fill="#231f20" font-family="Liberation Sans, sans-serif">0.8</text>
<path d="M370.6 1135.9 v-3" stroke="#555" stroke-width="0.9"/>
<text x="370.6" y="1153.4" font-size="16.0" text-anchor="middle" fill="#231f20" font-family="Liberation Sans, sans-serif">1</text>
<path d="M427.6 1135.9 v-3" stroke="#555" stroke-width="0.9"/>
<text x="427.6" y="1153.4" font-size="16.0" text-anchor="middle" fill="#231f20" font-family="Liberation Sans, sans-serif">1.2</text>
<text x="255.6" y="1175.8" font-size="23.6" text-anchor="middle" fill="#231f20" font-family="Liberation Sans, sans-serif">Intensity</text>
<text transform="translate(52.9 1017.7) rotate(-90)" font-size="23.9" text-anchor="middle" fill="#231f20" font-family="Liberation Sans, sans-serif">Counts</text>
<g clip-path="url(#cE)">
<polyline points="92.7,1135.9 107.0,1135.9 121.2,1135.9 135.5,1126.4 149.7,1116.2 164.0,1057.0 178.2,928.7 192.5,899.1 206.7,1086.6 221.0,1116.2 235.2,1126.4 249.5,1135.9 263.7,1135.9 278.0,1135.9 292.2,1135.9 306.5,1135.9 320.7,1135.9 335.0,1135.9 349.2,1135.9 363.5,1135.9 377.7,1135.9 392.0,1135.9 406.2,1135.9 420.5,1135.9" fill="none" stroke="#f20a10" stroke-width="1.3" stroke-linejoin="round"/>
<rect x="88.9" y="1132.1" width="7.6" height="7.6" fill="none" stroke="#f20a10" stroke-width="1.25"/>
<rect x="103.2" y="1132.1" width="7.6" height="7.6" fill="none" stroke="#f20a10" stroke-width="1.25"/>
<rect x="117.4" y="1132.1" width="7.6" height="7.6" fill="none" stroke="#f20a10" stroke-width="1.25"/>
<rect x="131.7" y="1122.6" width="7.6" height="7.6" fill="none" stroke="#f20a10" stroke-width="1.25"/>
<rect x="145.9" y="1112.4" width="7.6" height="7.6" fill="none" stroke="#f20a10" stroke-width="1.25"/>
<rect x="160.2" y="1053.2" width="7.6" height="7.6" fill="none" stroke="#f20a10" stroke-width="1.25"/>
<rect x="174.4" y="924.9" width="7.6" height="7.6" fill="none" stroke="#f20a10" stroke-width="1.25"/>
<rect x="188.7" y="895.3" width="7.6" height="7.6" fill="none" stroke="#f20a10" stroke-width="1.25"/>
<rect x="202.9" y="1082.8" width="7.6" height="7.6" fill="none" stroke="#f20a10" stroke-width="1.25"/>
<rect x="217.2" y="1112.4" width="7.6" height="7.6" fill="none" stroke="#f20a10" stroke-width="1.25"/>
<rect x="231.4" y="1122.6" width="7.6" height="7.6" fill="none" stroke="#f20a10" stroke-width="1.25"/>
<rect x="245.7" y="1132.1" width="7.6" height="7.6" fill="none" stroke="#f20a10" stroke-width="1.25"/>
<rect x="259.9" y="1132.1" width="7.6" height="7.6" fill="none" stroke="#f20a10" stroke-width="1.25"/>
<rect x="274.2" y="1132.1" width="7.6" height="7.6" fill="none" stroke="#f20a10" stroke-width="1.25"/>
<rect x="288.4" y="1132.1" width="7.6" height="7.6" fill="none" stroke="#f20a10" stroke-width="1.25"/>
<rect x="302.7" y="1132.1" width="7.6" height="7.6" fill="none" stroke="#f20a10" stroke-width="1.25"/>
<rect x="316.9" y="1132.1" width="7.6" height="7.6" fill="none" stroke="#f20a10" stroke-width="1.25"/>
<rect x="331.2" y="1132.1" width="7.6" height="7.6" fill="none" stroke="#f20a10" stroke-width="1.25"/>
<rect x="345.4" y="1132.1" width="7.6" height="7.6" fill="none" stroke="#f20a10" stroke-width="1.25"/>
<rect x="359.7" y="1132.1" width="7.6" height="7.6" fill="none" stroke="#f20a10" stroke-width="1.25"/>
<rect x="373.9" y="1132.1" width="7.6" height="7.6" fill="none" stroke="#f20a10" stroke-width="1.25"/>
<rect x="388.2" y="1132.1" width="7.6" height="7.6" fill="none" stroke="#f20a10" stroke-width="1.25"/>
<rect x="402.4" y="1132.1" width="7.6" height="7.6" fill="none" stroke="#f20a10" stroke-width="1.25"/>
<rect x="416.7" y="1132.1" width="7.6" height="7.6" fill="none" stroke="#f20a10" stroke-width="1.25"/>
<polyline points="99.8,1135.9 128.3,1135.9 156.8,1135.9 185.4,1127.1 213.8,1048.3 242.3,899.1 270.9,969.2 299.4,1092.1 327.9,1135.9 356.4,1118.4 384.9,1135.9 413.4,1135.9" fill="none" stroke="#20ec20" stroke-width="1.3" stroke-linejoin="round"/>
<circle cx="99.8" cy="1135.9" r="4.9" fill="none" stroke="#20ec20" stroke-width="1.25"/>
<circle cx="128.3" cy="1135.9" r="4.9" fill="none" stroke="#20ec20" stroke-width="1.25"/>
<circle cx="156.8" cy="1135.9" r="4.9" fill="none" stroke="#20ec20" stroke-width="1.25"/>
<circle cx="185.4" cy="1127.1" r="4.9" fill="none" stroke="#20ec20" stroke-width="1.25"/>
<circle cx="213.8" cy="1048.3" r="4.9" fill="none" stroke="#20ec20" stroke-width="1.25"/>
<circle cx="242.3" cy="899.1" r="4.9" fill="none" stroke="#20ec20" stroke-width="1.25"/>
<circle cx="270.9" cy="969.2" r="4.9" fill="none" stroke="#20ec20" stroke-width="1.25"/>
<circle cx="299.4" cy="1092.1" r="4.9" fill="none" stroke="#20ec20" stroke-width="1.25"/>
<circle cx="327.9" cy="1135.9" r="4.9" fill="none" stroke="#20ec20" stroke-width="1.25"/>
<circle cx="356.4" cy="1118.4" r="4.9" fill="none" stroke="#20ec20" stroke-width="1.25"/>
<circle cx="384.9" cy="1135.9" r="4.9" fill="none" stroke="#20ec20" stroke-width="1.25"/>
<circle cx="413.4" cy="1135.9" r="4.9" fill="none" stroke="#20ec20" stroke-width="1.25"/>
</g>
<path d="M320.5 913.3 H344" stroke="#f20a10" stroke-width="1.3"/>
<path d="M320.5 931.4 H344" stroke="#20ec20" stroke-width="1.3"/>
<rect x="328.6" y="909.6" width="7.4" height="7.4" fill="none" stroke="#f20a10" stroke-width="1.25"/>
<circle cx="332.3" cy="931.4" r="4.8" fill="none" stroke="#20ec20" stroke-width="1.25"/>
<text x="346.6" y="918.3" font-size="15.6" fill="#231f20" font-family="Liberation Sans, sans-serif">Membrane</text>
<text x="346.9" y="936.7" font-size="15.6" fill="#231f20" font-family="Liberation Sans, sans-serif">I-BAR</text>
<text x="6.6" y="934.7" font-size="52" fill="#231f20" font-family="Liberation Sans, sans-serif">E</text>
<clipPath id="cR1"><rect x="551.1" y="600.2" width="132.2" height="119.6"/></clipPath>
<rect x="551.1" y="600.2" width="132.2" height="119.6" fill="#250001"/>
<g clip-path="url(#cR1)">
<ellipse cx="616.5" cy="659.6" rx="55.6" ry="56" fill="#210000"/>
<ellipse cx="616.5" cy="659.6" rx="55.6" ry="56.0" fill="none" stroke="#c01018" stroke-width="4.2" filter="url(#b15)" opacity="0.6"/>
<ellipse cx="616.5" cy="659.6" rx="55.6" ry="56.0" fill="none" stroke="#e8141c" stroke-width="2.4" filter="url(#b05)"/>
<ellipse cx="616.5" cy="659.6" rx="55.6" ry="56.0" fill="none" stroke="#ff5a5a" stroke-width="0.9" opacity="0.35" filter="url(#b05)"/>
<g fill="none" stroke="#9a1014" stroke-width="1.9" stroke-linecap="round" stroke-linejoin="round" filter="url(#b1)" opacity="0.9">
<path d="M621.0 632.8 C621.1 634.3 622.2 638.4 621.6 642.0 C621.0 645.6 619.5 650.5 617.6 654.3 C615.7 658.0 612.8 661.1 610.4 664.5 C608.0 667.9 604.9 671.3 603.2 674.7 C601.5 678.1 599.9 681.5 600.2 684.9 C600.6 688.3 603.4 692.0 605.3 695.1 C607.2 698.2 609.9 701.1 611.4 703.3 C612.9 705.5 614.0 707.5 614.5 708.4"/>
<path d="M594.0 649.2 C595.4 649.7 599.5 651.0 602.2 652.2 C604.9 653.4 608.0 654.2 610.4 656.3 C612.8 658.3 614.3 662.3 616.5 664.5 C618.7 666.7 622.5 668.8 623.7 669.6"/>
<path d="M584.9 670.6 C586.1 669.8 589.8 667.2 592.0 665.5 C594.2 663.8 595.4 663.6 598.1 660.4 C600.8 657.2 606.7 648.5 608.4 646.1"/>
<path d="M623.7 617.5 C624.9 618.2 627.9 620.6 630.8 621.6 C633.7 622.6 638.0 622.6 641.1 623.6 C644.2 624.6 647.9 627.0 649.2 627.7"/>
<path d="M649.2 628.7 L647.2 637.9"/>
<path d="M649.2 659.4 C650.4 660.1 654.2 661.6 656.4 663.5 C658.6 665.4 661.3 667.7 662.5 670.6 C663.7 673.5 663.8 678.1 663.5 680.8 C663.2 683.5 661.0 686.0 660.5 687.0"/>
<path d="M634.9 693.1 C635.2 694.0 635.6 697.2 637.0 698.2 C638.4 699.2 640.7 699.7 643.1 699.2 C645.5 698.7 649.1 696.5 651.3 695.1 C653.5 693.8 655.5 691.8 656.4 691.1"/>
<path d="M579.7 691.1 L583.8 680.8"/>
<path d="M662.5 653.2 L663.5 656.3"/>
<path d="M604.0 683.0 L608.0 687.0"/>
</g>
<g fill="#e01c24" filter="url(#b07)"><circle cx="588.3" cy="714.6" r="2.4"/><circle cx="596.1" cy="664.5" r="1.8"/><circle cx="617" cy="696" r="1.3"/></g>
<circle cx="558" cy="618" r="3" fill="#5a0000" filter="url(#b1)"/>
</g>
<clipPath id="cR2"><rect x="551.1" y="722.3" width="132.2" height="138.3"/></clipPath>
<rect x="551.1" y="722.3" width="132.2" height="138.3" fill="#270001"/>
<g clip-path="url(#cR2)">
<ellipse cx="618" cy="793" rx="61.8" ry="61.8" fill="#300303"/>
<ellipse cx="618.0" cy="793.0" rx="61.8" ry="61.8" fill="none" stroke="#c01018" stroke-width="4.2" filter="url(#b15)" opacity="0.6"/>
<ellipse cx="618.0" cy="793.0" rx="61.8" ry="61.8" fill="none" stroke="#ea141c" stroke-width="2.4" filter="url(#b05)"/>
<ellipse cx="618.0" cy="793.0" rx="61.8" ry="61.8" fill="none" stroke="#ff5a5a" stroke-width="0.9" opacity="0.35" filter="url(#b05)"/>
<g stroke="#8c1216" stroke-width="1.5" stroke-linecap="round" fill="none" filter="url(#b1)" opacity="0.8">
<path d="M612.9 795.9 q1.3 1.2 3.6 4.9"/>
<path d="M596.7 783.6 q0.5 -0.0 0.5 2.6"/>
<path d="M585.4 781.7 q5.2 0.6 6.5 1.9"/>
<path d="M595.7 792.4 q1.7 -0.3 4.6 3.1"/>
<path d="M587.6 841.3 q-4.4 4.2 -4.8 5.0"/>
<path d="M653.0 756.0 q1.0 2.0 2.8 0.9"/>
<path d="M574.1 769.5 q0.7 2.9 -0.2 3.2"/>
<path d="M627.8 766.8 q3.7 2.2 5.0 4.0"/>
<path d="M635.5 833.9 q-4.1 -1.0 -4.6 0.6"/>
<path d="M670.6 787.5 q1.2 -0.5 2.1 1.8"/>
<path d="M612.2 804.5 q4.7 2.4 5.4 1.4"/>
<path d="M630.3 743.5 q0.0 1.5 -2.0 3.2"/>
<path d="M660.5 810.3 q-0.9 3.5 -1.2 3.4"/>
<path d="M633.2 841.5 q-2.2 1.4 -1.0 5.4"/>
<path d="M645.3 787.3 q1.0 1.2 1.7 2.2"/>
<path d="M621.3 793.1 q2.3 2.4 3.7 2.5"/>
<path d="M652.0 816.4 q0.2 0.9 -3.2 2.5"/>
<path d="M620.3 847.3 q0.1 -0.4 1.1 1.8"/>
<path d="M600.2 755.2 q1.2 0.9 0.9 3.1"/>
<path d="M653.9 809.2 q-1.7 -0.1 -1.1 2.8"/>
<path d="M644.2 772.4 q0.6 2.4 -0.4 3.4"/>
<path d="M626.9 764.8 q0.9 2.2 1.7 3.8"/>
<path d="M607.6 782.0 q-3.0 2.5 -2.3 3.1"/>
<path d="M603.6 759.2 q2.4 1.5 2.9 3.1"/>
<path d="M617.1 802.9 q-1.1 1.0 -3.6 0.9"/>
<path d="M627.3 788.9 q1.7 0.1 4.2 2.8"/>
<path d="M585.9 837.7 q-4.2 0.5 -5.0 2.6"/>
<path d="M620.5 781.6 q2.7 -0.7 2.9 0.7"/>
<path d="M611.9 796.1 q1.1 0.6 -0.1 2.6"/>
<path d="M613.1 803.6 q-0.1 0.8 2.2 1.1"/>
<path d="M581.8 837.4 q-3.2 0.9 -3.1 1.5"/>
<path d="M573.2 778.6 q1.0 0.6 -0.3 4.0"/>
<path d="M574.4 784.2 q2.2 -0.4 5.1 2.9"/>
<path d="M589.8 746.9 q-0.9 -0.9 -3.2 2.1"/>
<path d="M605.8 795.3 q-2.9 1.3 -2.9 2.1"/>
<path d="M636.0 799.7 q1.9 2.8 6.5 2.0"/>
<path d="M608.2 818.2 q-1.8 0.1 0.0 2.5"/>
<path d="M626.7 842.3 q-1.4 3.3 -0.8 2.7"/>
<path d="M673.7 789.7 q1.2 3.8 -1.1 6.4"/>
<path d="M644.8 834.8 q1.9 1.3 6.2 0.3"/>
<path d="M622.9 749.9 q-0.2 2.9 1.8 1.9"/>
<path d="M623.4 827.9 q-1.1 3.0 -2.7 4.7"/>
<path d="M654.7 751.4 q2.9 1.8 2.5 0.2"/>
<path d="M593.2 820.0 q-0.9 1.6 1.3 5.3"/>
<path d="M603.5 834.2 q0.9 0.6 -1.9 2.2"/>
<path d="M576.2 773.2 q-1.1 3.6 -2.4 5.5"/>
<path d="M673.6 801.4 q-3.1 3.2 -3.7 5.3"/>
<path d="M654.0 799.4 q-1.3 -0.1 -0.6 3.0"/>
<path d="M625.9 765.0 q2.6 1.3 4.8 0.2"/>
<path d="M625.2 760.6 q-1.2 0.4 -0.9 2.5"/>
<path d="M627.0 828.2 q1.4 3.5 1.6 5.2"/>
<path d="M634.2 752.3 q0.1 4.1 -0.0 7.0"/>
<path d="M665.8 784.3 q2.6 2.4 5.8 3.1"/>
<path d="M612.3 740.5 q0.6 1.0 1.8 2.8"/>
<path d="M648.2 812.9 q-2.9 2.4 -3.6 3.8"/>
<path d="M618.2 770.1 q1.6 2.2 1.8 1.0"/>
<path d="M593.4 814.1 q-0.4 1.1 2.8 4.3"/>
<path d="M586.3 769.8 q-0.8 2.8 1.2 3.5"/>
<path d="M584.1 827.3 q-1.1 -0.7 -4.6 1.5"/>
<path d="M612.2 794.8 q4.1 0.8 4.3 3.8"/>
<path d="M577.4 790.9 q0.6 2.2 -1.8 5.9"/>
<path d="M638.5 807.4 q0.1 1.9 -1.4 1.8"/>
<path d="M622.0 772.9 q-2.6 0.4 -1.1 2.0"/>
<path d="M578.1 768.5 q-0.6 -0.4 -5.0 0.8"/>
<path d="M614.6 800.8 q0.8 0.2 0.5 2.6"/>
<path d="M656.9 821.1 q-1.4 1.5 -0.0 5.4"/>
<path d="M611.9 846.2 q5.0 2.1 6.6 1.0"/>
<path d="M625.5 766.0 q-4.3 0.1 -5.6 3.9"/>
<path d="M586.2 823.6 q-0.4 0.2 -2.1 0.3"/>
<path d="M599.3 794.0 q-3.9 3.3 -3.9 4.2"/>
<path d="M583.8 837.4 q0.2 0.5 2.9 2.3"/>
<path d="M639.1 803.1 q-0.1 0.7 -0.7 4.3"/>
<path d="M640.0 796.4 q3.7 1.6 5.9 2.7"/>
<path d="M572.6 760.0 q-0.9 0.8 -1.9 2.6"/>
<path d="M596.8 808.2 q-0.7 -1.0 -2.4 0.6"/>
<path d="M626.2 769.4 q0.5 2.2 -1.4 5.1"/>
<path d="M665.2 779.3 q1.0 -0.7 3.9 1.6"/>
<path d="M566.4 786.1 q-1.5 1.7 -2.4 5.2"/>
<path d="M633.8 748.2 q0.7 3.0 -1.0 5.2"/>
<path d="M615.0 828.3 q2.7 2.3 2.2 2.8"/>
<path d="M588.6 767.5 q2.0 1.1 4.2 1.4"/>
<path d="M593.7 826.4 q-5.1 2.7 -6.7 1.9"/>
<path d="M632.4 742.8 q0.9 2.4 4.8 3.7"/>
<path d="M626.7 776.7 q0.6 -0.8 -2.0 0.3"/>
<path d="M633.1 765.1 q3.5 -1.0 6.2 0.3"/>
<path d="M612.0 786.1 q2.3 -0.9 5.0 1.6"/>
<path d="M601.0 808.3 q0.8 2.3 0.3 3.6"/>
<path d="M565.0 785.1 q2.6 0.3 3.6 1.8"/>
<path d="M651.2 778.6 q2.3 0.8 1.0 1.8"/>
<path d="M633.5 761.4 q1.3 -1.0 4.9 1.2"/>
<path d="M591.0 812.0 q-2.1 1.2 -2.2 4.3"/>
<path d="M638.0 796.1 q-3.1 0.2 -3.7 1.2"/>
<path d="M662.4 796.6 q0.6 0.9 2.1 3.5"/>
<path d="M597.1 806.6 q-1.1 0.0 -5.4 1.2"/>
<path d="M668.7 796.7 q0.3 3.4 -0.6 4.3"/>
<path d="M580.0 788.7 q-0.0 -1.2 2.6 0.3"/>
<path d="M658.7 777.1 q0.2 2.2 1.2 1.8"/>
<path d="M581.3 815.2 q-0.8 2.5 1.8 2.8"/>
<path d="M568.5 796.4 q1.4 -0.0 4.7 1.3"/>
<path d="M625.1 759.6 q-2.0 2.2 -5.5 4.1"/>
<path d="M606.0 761.4 q-1.3 2.4 -2.3 1.1"/>
<path d="M613.0 749.3 q-2.2 1.1 -2.3 3.4"/>
<path d="M595.8 840.5 q1.3 0.4 6.4 2.0"/>
<path d="M602.2 758.0 q-2.2 1.0 -5.8 0.6"/>
<path d="M645.6 827.7 q0.2 2.2 4.2 3.0"/>
<path d="M664.6 791.0 q-2.1 -0.0 -2.8 1.2"/>
<path d="M638.1 745.4 q-5.1 0.1 -6.2 2.4"/>
<path d="M593.8 779.1 q-1.1 4.1 -4.2 4.6"/>
<path d="M603.0 738.1 q2.0 2.7 3.9 1.8"/>
<path d="M593.2 771.4 q-0.4 1.4 2.3 1.0"/>
<path d="M599.9 826.7 q2.3 2.4 3.5 5.9"/>
<path d="M589.5 817.9 q2.5 1.0 3.9 1.5"/>
<path d="M661.7 829.9 q1.6 3.8 4.5 5.3"/>
<path d="M574.4 791.3 q-3.0 2.0 -4.1 4.1"/>
<path d="M638.2 742.4 q-1.9 -0.0 -5.1 3.7"/>
<path d="M585.5 829.5 q2.0 1.4 3.2 0.6"/>
<path d="M667.5 791.8 q2.8 1.8 4.2 0.4"/>
<path d="M574.8 788.1 q1.0 2.3 1.3 2.1"/>
<path d="M594.1 840.2 q-1.6 3.2 -0.8 4.9"/>
<path d="M642.5 821.5 q-1.2 0.1 -5.9 2.6"/>
<path d="M650.8 770.6 q0.5 2.3 -2.7 0.9"/>
<path d="M600.7 814.4 q-0.4 3.5 -4.1 5.2"/>
<path d="M667.3 788.2 q-3.2 2.4 -5.9 1.5"/>
<path d="M569.3 822.3 q-3.0 1.5 -2.0 4.3"/>
<path d="M617.0 799.3 q-0.3 0.3 2.5 2.6"/>
<path d="M635.2 772.3 q-4.7 0.9 -5.5 0.1"/>
<path d="M634.6 811.6 q-0.2 -1.2 -3.4 0.9"/>
<path d="M622.2 776.7 q-0.4 -1.6 -3.8 0.0"/>
<path d="M583.7 777.6 q-2.2 2.9 -4.9 2.3"/>
<path d="M636.7 778.8 q1.0 1.4 1.9 1.3"/>
<path d="M648.2 753.7 q-0.2 2.1 -1.6 5.0"/>
<path d="M590.4 747.7 q-1.3 0.7 -4.0 4.9"/>
<path d="M599.6 827.5 q0.9 2.4 2.9 2.1"/>
<path d="M611.9 848.8 q1.1 2.0 0.5 2.0"/>
<path d="M637.6 794.5 q-1.9 0.7 -0.5 2.3"/>
<path d="M614.3 811.2 q0.7 1.3 0.8 3.8"/>
<path d="M648.2 807.0 q2.8 -1.9 5.5 0.1"/>
<path d="M634.9 773.6 q2.4 1.8 4.5 1.3"/>
<path d="M662.3 766.6 q4.5 -1.7 6.5 0.2"/>
<path d="M657.8 750.9 q0.0 1.0 -1.8 5.3"/>
<path d="M629.2 780.0 q1.8 0.8 2.1 2.4"/>
<path d="M587.0 820.0 q-1.1 0.5 -5.1 2.8"/>
<path d="M634.9 798.8 q-2.6 1.9 -1.8 1.8"/>
<path d="M666.1 793.5 q0.3 2.1 -1.4 2.9"/>
<path d="M625.5 796.7 q-2.0 -0.4 -3.7 1.1"/>
<path d="M566.4 802.6 q3.1 0.3 2.8 1.1"/>
<path d="M587.7 804.2 q-0.3 -0.3 -2.9 1.4"/>
<path d="M609.3 738.1 q-3.7 1.5 -4.1 0.2"/>
<path d="M635.2 769.5 q-0.3 2.5 2.2 2.6"/>
<path d="M601.6 744.2 q0.1 0.9 3.6 3.8"/>
</g>
<g fill="#d82026" filter="url(#b07)">
<circle cx="619.9" cy="785.1" r="1.0"/>
<circle cx="604.5" cy="821.1" r="0.8"/>
<circle cx="598.0" cy="780.0" r="0.7"/>
<circle cx="647.5" cy="752.2" r="0.9"/>
<circle cx="618.3" cy="837.3" r="1.3"/>
<circle cx="627.2" cy="755.5" r="1.0"/>
<circle cx="587.0" cy="830.8" r="1.0"/>
<circle cx="664.9" cy="801.1" r="1.2"/>
<circle cx="594.9" cy="795.2" r="0.8"/>
<circle cx="636.8" cy="842.7" r="1.1"/>
<circle cx="608.6" cy="823.5" r="0.7"/>
<circle cx="564.7" cy="814.0" r="1.1"/>
<circle cx="632.5" cy="786.8" r="1.2"/>
<circle cx="662.6" cy="765.8" r="0.7"/>
<circle cx="657.0" cy="750.9" r="1.1"/>
<circle cx="584.2" cy="789.9" r="1.2"/>
<circle cx="591.2" cy="773.9" r="0.7"/>
<circle cx="666.3" cy="798.3" r="0.8"/>
<circle cx="639.7" cy="816.7" r="0.9"/>
<circle cx="640.9" cy="760.3" r="0.7"/>
<circle cx="640.5" cy="751.0" r="1.0"/>
<circle cx="647.6" cy="771.0" r="0.9"/>
<circle cx="663.5" cy="809.3" r="1.0"/>
<circle cx="622.9" cy="791.3" r="0.9"/>
<circle cx="583.5" cy="807.3" r="0.6"/>
<circle cx="622.7" cy="782.0" r="1.0"/>
<circle cx="603.5" cy="827.9" r="1.2"/>
<circle cx="629.8" cy="832.8" r="0.8"/>
<circle cx="585.0" cy="765.7" r="1.1"/>
<circle cx="656.1" cy="819.0" r="1.1"/>
<circle cx="670.0" cy="816.6" r="1.2"/>
<circle cx="631.8" cy="743.4" r="1.0"/>
<circle cx="637.7" cy="781.4" r="1.1"/>
<circle cx="632.4" cy="790.9" r="1.1"/>
<circle cx="639.5" cy="789.3" r="1.0"/>
<circle cx="641.9" cy="775.2" r="0.7"/>
<circle cx="607.6" cy="742.4" r="1.3"/>
<circle cx="610.3" cy="782.0" r="1.2"/>
<circle cx="608.2" cy="835.4" r="1.1"/>
<circle cx="660.7" cy="787.1" r="0.7"/>
</g>
<circle cx="569.5" cy="731.5" r="5.5" fill="#a00c10" filter="url(#b2)"/>
<circle cx="559.3" cy="748.6" r="2.4" fill="#f0262c" filter="url(#b05)"/>
<circle cx="554.8" cy="771.1" r="2.8" fill="#e01c22" filter="url(#b1)"/>
<circle cx="669.7" cy="800.7" r="3.6" fill="#c01018" filter="url(#b1)"/>
<circle cx="575.7" cy="852.8" r="3" fill="#600000" filter="url(#b1)"/>
</g>
<clipPath id="cR3"><rect x="551.1" y="872.6" width="132.2" height="131.1"/></clipPath>
<rect x="551.1" y="872.6" width="132.2" height="131.1" fill="#031800"/>
<linearGradient id="gG" x1="0" y1="0" x2="1" y2="0"><stop offset="0" stop-color="#011000"/><stop offset="0.62" stop-color="#031600"/><stop offset="1" stop-color="#0b3405"/></linearGradient>
<g clip-path="url(#cR3)">
<rect x="551.1" y="872.6" width="132.2" height="131.1" fill="url(#gG)"/>
<ellipse cx="618" cy="937.5" rx="58.9" ry="59.2" fill="#000c00"/>
<ellipse cx="682" cy="966" rx="6" ry="22" fill="#28f028" filter="url(#b2)"/>
<ellipse cx="680.8" cy="975.5" rx="5.5" ry="9.5" fill="#38ff38" filter="url(#b15)"/>
<ellipse cx="618.0" cy="937.5" rx="58.9" ry="59.2" fill="none" stroke="#139a13" stroke-width="4.2" filter="url(#b15)" opacity="0.6"/>
<ellipse cx="618.0" cy="937.5" rx="58.9" ry="59.2" fill="none" stroke="#24e024" stroke-width="2.4" filter="url(#b05)"/>
<ellipse cx="618.0" cy="937.5" rx="58.9" ry="59.2" fill="none" stroke="#7dff7d" stroke-width="0.9" opacity="0.35" filter="url(#b05)"/>
<g fill="none" stroke="#178c17" stroke-width="1.5" stroke-linecap="round" stroke-linejoin="round" filter="url(#b07)" opacity="0.85">
<path d="M604.3 936.5 C604.1 938.2 602.9 943.3 603.2 946.7 C603.5 950.1 605.1 953.9 606.3 957.0 C607.5 960.1 608.7 963.9 610.4 965.1 C612.1 966.3 615.5 964.3 616.5 964.1"/>
<path d="M623.7 933.5 C623.0 934.4 620.1 936.6 619.6 938.6 C619.1 940.6 620.4 944.5 620.6 945.7"/>
<path d="M616.5 971.3 C617.2 972.1 620.1 974.0 620.6 976.4 C621.1 978.8 619.9 982.7 619.6 985.6 C619.3 988.5 618.8 992.4 618.6 993.7"/>
<path d="M632.9 899.7 C634.3 899.9 638.7 900.1 641.1 900.8 C643.5 901.5 645.0 903.5 647.2 903.8 C649.4 904.1 653.1 903.0 654.3 902.8"/>
<path d="M625.7 916.1 L630.8 921.2"/>
<path d="M569.5 926.3 C570.9 927.3 575.1 931.9 577.7 932.4 C580.3 932.9 582.7 930.9 584.9 929.4 C587.1 927.9 590.0 924.2 591.0 923.2"/>
<path d="M582.8 895.7 L585.9 902.8"/>
<path d="M571.6 907.9 C573.0 907.7 577.3 906.2 579.7 906.9 C582.1 907.6 584.7 909.8 585.9 912.0 C587.1 914.2 586.7 918.8 586.9 920.2"/>
<path d="M599.2 886.5 C599.4 887.4 601.1 890.1 600.2 891.6 C599.3 893.1 595.0 895.0 594.0 895.7"/>
<path d="M651.3 943.7 C652.6 943.7 656.7 944.1 659.4 943.7 C662.1 943.4 666.2 942.0 667.6 941.6"/>
<path d="M639.0 945.7 C639.4 946.9 641.2 952.1 641.1 952.9 C641.0 953.7 638.9 950.9 638.5 950.5"/>
<path d="M646.2 960.0 C646.9 961.0 649.1 965.4 650.3 966.2 C651.5 967.1 652.8 965.3 653.3 965.1"/>
<path d="M604.3 912.0 L606.3 916.1"/>
<path d="M656.0 953.0 L662.0 949.0"/>
<path d="M659.0 957.0 L657.0 962.0"/>
</g>
<g fill="#22b022" filter="url(#b07)">
<circle cx="637.0" cy="910.4" r="1.2"/>
<circle cx="582.8" cy="943.7" r="1.2"/>
<circle cx="587.9" cy="978.4" r="1.1"/>
<circle cx="609.4" cy="977.4" r="1.1"/>
<circle cx="645.1" cy="977.4" r="1.0"/>
<circle cx="564.4" cy="995.8" r="1.2"/>
<circle cx="594.0" cy="895.7" r="1.1"/>
</g></g>
<clipPath id="cR4"><rect x="551.1" y="1006.0" width="132.2" height="132.7"/></clipPath>
<rect x="551.1" y="1006.0" width="132.2" height="132.7" fill="#200000"/>
<g clip-path="url(#cR4)">
<ellipse cx="620.6" cy="1074.2" rx="59.7" ry="60.3" fill="#170000"/>
<ellipse cx="682.5" cy="1112" rx="6" ry="13" fill="#f01c24" filter="url(#b2)"/>
<ellipse cx="682.5" cy="1112.5" rx="4" ry="8.5" fill="#ff2830" filter="url(#b15)"/>
<ellipse cx="679" cy="1085" rx="2.5" ry="6" fill="#c0161c" filter="url(#b2)"/>
<ellipse cx="620.6" cy="1074.2" rx="59.7" ry="60.3" fill="none" stroke="#c01018" stroke-width="4.2" filter="url(#b15)" opacity="0.6"/>
<ellipse cx="620.6" cy="1074.2" rx="59.7" ry="60.3" fill="none" stroke="#f0161e" stroke-width="2.4" filter="url(#b05)"/>
<ellipse cx="620.6" cy="1074.2" rx="59.7" ry="60.3" fill="none" stroke="#ff6060" stroke-width="0.9" opacity="0.35" filter="url(#b05)"/>
<g fill="none" stroke="#980e14" stroke-width="1.5" stroke-linecap="round" stroke-linejoin="round" filter="url(#b07)" opacity="0.85">
<path d="M606.9 1073.1 C606.7 1074.8 605.5 1079.9 605.8 1083.3 C606.1 1086.7 607.7 1090.5 608.9 1093.6 C610.1 1096.7 611.3 1100.5 613.0 1101.7 C614.7 1102.9 618.1 1100.9 619.1 1100.7"/>
<path d="M626.3 1070.1 C625.6 1070.9 622.7 1073.2 622.2 1075.2 C621.7 1077.2 623.0 1081.1 623.2 1082.3"/>
<path d="M619.1 1107.9 C619.8 1108.8 622.7 1110.6 623.2 1113.0 C623.7 1115.4 622.5 1119.3 622.2 1122.2 C621.9 1125.1 621.4 1129.0 621.2 1130.3"/>
<path d="M635.5 1036.3 C636.9 1036.5 641.3 1036.7 643.7 1037.4 C646.1 1038.1 647.6 1040.1 649.8 1040.4 C652.0 1040.7 655.7 1039.6 656.9 1039.4"/>
<path d="M628.3 1052.7 L633.4 1057.8"/>
<path d="M572.1 1062.9 C573.5 1063.9 577.7 1068.5 580.3 1069.0 C582.9 1069.5 585.3 1067.5 587.5 1066.0 C589.7 1064.5 592.6 1060.8 593.6 1059.8"/>
<path d="M585.4 1032.3 L588.5 1039.4"/>
<path d="M574.2 1044.5 C575.6 1044.3 579.9 1042.8 582.3 1043.5 C584.7 1044.2 587.3 1046.4 588.5 1048.6 C589.7 1050.8 589.3 1055.4 589.5 1056.8"/>
<path d="M601.8 1023.1 C602.0 1024.0 603.7 1026.7 602.8 1028.2 C601.9 1029.7 597.6 1031.6 596.6 1032.3"/>
<path d="M653.9 1080.3 C655.2 1080.3 659.3 1080.6 662.0 1080.3 C664.7 1080.0 668.8 1078.5 670.2 1078.2"/>
<path d="M641.6 1082.3 C642.0 1083.5 643.8 1088.7 643.7 1089.5 C643.6 1090.3 641.5 1087.5 641.1 1087.1"/>
<path d="M648.8 1096.6 C649.5 1097.6 651.7 1101.9 652.9 1102.8 C654.1 1103.7 655.4 1101.9 655.9 1101.7"/>
<path d="M606.9 1048.6 L608.9 1052.7"/>
<path d="M658.6 1089.6 L664.6 1085.6"/>
<path d="M661.6 1093.6 L659.6 1098.6"/>
</g>
<g fill="#b81218" filter="url(#b07)">
<circle cx="639.6" cy="1047.0" r="1.2"/>
<circle cx="585.4" cy="1080.3" r="1.2"/>
<circle cx="590.5" cy="1115.0" r="1.1"/>
<circle cx="612.0" cy="1114.0" r="1.1"/>
<circle cx="647.7" cy="1114.0" r="1.0"/>
<circle cx="567.0" cy="1132.4" r="1.2"/>
<circle cx="596.6" cy="1032.3" r="1.1"/>
</g>
<circle cx="620.6" cy="1060.7" r="5.4" fill="#c81018" filter="url(#b1)"/>
<circle cx="620.6" cy="1060.7" r="4.2" fill="#ff1c24"/>
</g>
<text transform="translate(531.9 654.2) rotate(-90)" font-size="31.0" text-anchor="middle" fill="#231f20" font-family="Liberation Sans, sans-serif" word-spacing="-4.2">GUV 1</text>
<text transform="translate(527.2 787.0) rotate(-90)" font-size="31.0" text-anchor="middle" fill="#231f20" font-family="Liberation Sans, sans-serif" >GUV2</text>
<text transform="translate(527.2 943.0) rotate(-90)" font-size="31.0" text-anchor="middle" fill="#231f20" font-family="Liberation Sans, sans-serif" >ABBA</text>
<text transform="translate(526.3 1085.2) rotate(-90)" font-size="31.0" text-anchor="middle" fill="#231f20" font-family="Liberation Sans, sans-serif" >Membrane</text>
</svg>
</body></html>
